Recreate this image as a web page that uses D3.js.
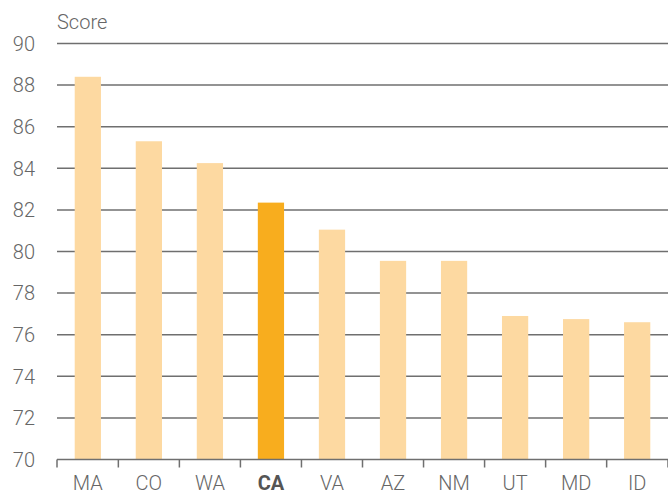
<!DOCTYPE html>
<html>
<head>
<meta charset="utf-8">
<script src="https://cdn.jsdelivr.net/npm/d3@7"></script>
<style>
  body { margin: 0; background: #fff; }
  svg { display: block; font-family: Roboto, "DejaVu Sans", sans-serif; }
</style>
</head>
<body>
<svg id="chart" width="668" height="494"></svg>
<script>
// State scores, sorted high to low
const states = ["MA", "CO", "WA", "CA", "VA", "AZ", "NM", "UT", "MD", "ID"];
const scores = [88.4, 85.3, 84.25, 82.35, 81.05, 79.55, 79.55, 76.9, 76.75, 76.6];
const highlight = "CA";
const yTicks = [70, 72, 74, 76, 78, 80, 82, 84, 86, 88, 90];

const svg = d3.select("#chart");
const margin = { top: 43.5, right: 0, bottom: 34.5, left: 57 };
const W = 668, H = 494;

const x = d3.scaleBand()
  .domain(states)
  .range([margin.left, W - margin.right])
  .paddingInner(0.57)
  .paddingOuter(0.29);

const y = d3.scaleLinear()
  .domain([70, 90])
  .range([H - margin.bottom, margin.top]);

const textColor = "#666";

// horizontal gridlines
svg.append("g")
  .selectAll("line")
  .data(yTicks.filter(t => t > 70))
  .join("line")
  .attr("x1", margin.left)
  .attr("x2", W)
  .attr("y1", d => y(d))
  .attr("y2", d => y(d))
  .attr("stroke", "#6f6f6f")
  .attr("stroke-width", 1.5);

// y tick labels
svg.append("g")
  .selectAll("text")
  .data(yTicks)
  .join("text")
  .attr("x", 35)
  .attr("y", d => y(d))
  .attr("dy", "0.36em")
  .attr("text-anchor", "end")
  .attr("font-size", 20)
  .attr("font-weight", 300)
  .attr("fill", textColor)
  .text(d => d);

// axis title
svg.append("text")
  .attr("x", 57)
  .attr("y", 29)
  .attr("font-size", 20)
  .attr("font-weight", 300)
  .attr("fill", textColor)
  .text("Score");

// bars
svg.append("g")
  .selectAll("rect")
  .data(states.map((s, i) => ({ s, v: scores[i] })))
  .join("rect")
  .attr("x", d => x(d.s))
  .attr("width", x.bandwidth())
  .attr("y", d => y(d.v))
  .attr("height", d => y(70) - y(d.v))
  .attr("fill", d => d.s === highlight ? "#f8ad1e" : "#fdd9a1");

// baseline
svg.append("line")
  .attr("x1", margin.left)
  .attr("x2", W)
  .attr("y1", y(70))
  .attr("y2", y(70))
  .attr("stroke", "#6f6f6f")
  .attr("stroke-width", 1.5);

// tick marks between categories
const step = x.step();
const boundaries = states.map(s => x(s) - x.paddingInner() * step / 2)
  .map((b, i) => i === 0 ? margin.left : b);
boundaries.push(W);

svg.append("g")
  .selectAll("line")
  .data(boundaries)
  .join("line")
  .attr("x1", d => d)
  .attr("x2", d => d)
  .attr("y1", y(70))
  .attr("y2", y(70) + 8)
  .attr("stroke", "#6f6f6f")
  .attr("stroke-width", 1.5);

// category labels
svg.append("g")
  .selectAll("text")
  .data(states)
  .join("text")
  .attr("x", d => x(d) + x.bandwidth() / 2)
  .attr("y", 490)
  .attr("text-anchor", "middle")
  .attr("font-size", 20)
  .attr("font-weight", d => d === highlight ? "bold" : 300)
  .attr("fill", d => d === highlight ? "#555" : textColor)
  .text(d => d);
</script>
</body>
</html>
